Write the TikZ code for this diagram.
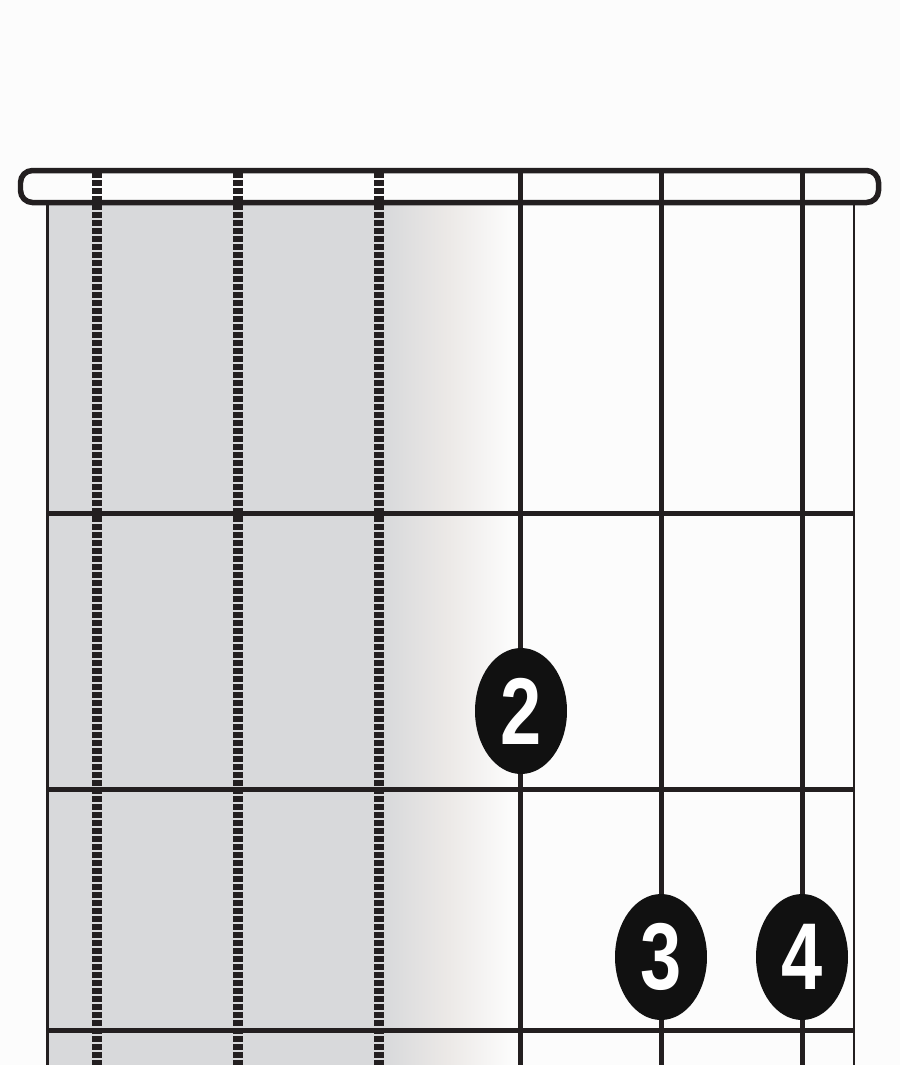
\documentclass[tikz,border=0pt]{standalone}
\usepackage{fontspec}
\newfontfamily\fingerfont{Liberation Sans}
\usetikzlibrary{shapes.geometric}
\definecolor{paper}{HTML}{FCFCFC}
\definecolor{board}{HTML}{D8D9DB}
\definecolor{ink}{HTML}{231F20}
\definecolor{dotink}{HTML}{111111}

\begin{document}
\begin{tikzpicture}[x=0.02cm,y=-0.02cm,
    fret/.style={ink,line width=0.1cm},
    wound/.style={ink,line width=0.2cm,dash pattern=on 0.12cm off 0.04cm},
    plain/.style={ink,line width=0.1cm},
    fingerdot/.style={ellipse,fill=dotink,inner sep=0pt,minimum width=1.84cm,minimum height=2.52cm,
        text=white,font=\fingerfont\bfseries\fontsize{54}{54}\selectfont}]
\fill[paper] (0,0) rectangle (900,1065);
\useasboundingbox (0,0) rectangle (900,1065);

% board, shaded under the three wound strings
\fill[board] (47,205) rectangle (386,1065);
\shade[left color=board,right color=paper,middle color={rgb,255:red,236;green,233;blue,231}] (385,205) rectangle (512,1065);

% nut
\fill[paper,rounded corners=0.24cm] (20.5,170.5) rectangle (878.5,202.5);

% strings
\foreach \x in {97,238,379}
    \draw[wound] (\x,172) -- (\x,1065);
\foreach \x in {520,661,802}
    \draw[plain] (\x,172) -- (\x,1065);

% frets and edges
\foreach \y in {513,789,1030}
    \draw[fret] (47,\y) -- (854,\y);
\draw[ink,line width=0.06cm] (47,204) -- (47,1065);
\draw[ink,line width=0.04cm] (854,204) -- (854,1065);
\draw[ink,line width=0.11cm,rounded corners=0.24cm] (20.5,170.5) rectangle (878.5,202.5);

% fingers
\node[fingerdot] (f2) at (521,711) {\scalebox{0.78}[1]{2}};
\node[fingerdot] (f3) at (661,957) {\scalebox{0.78}[1]{3}};
\node[fingerdot] (f4) at (802,957) {\scalebox{0.78}[1]{4}};
\end{tikzpicture}
\end{document}
